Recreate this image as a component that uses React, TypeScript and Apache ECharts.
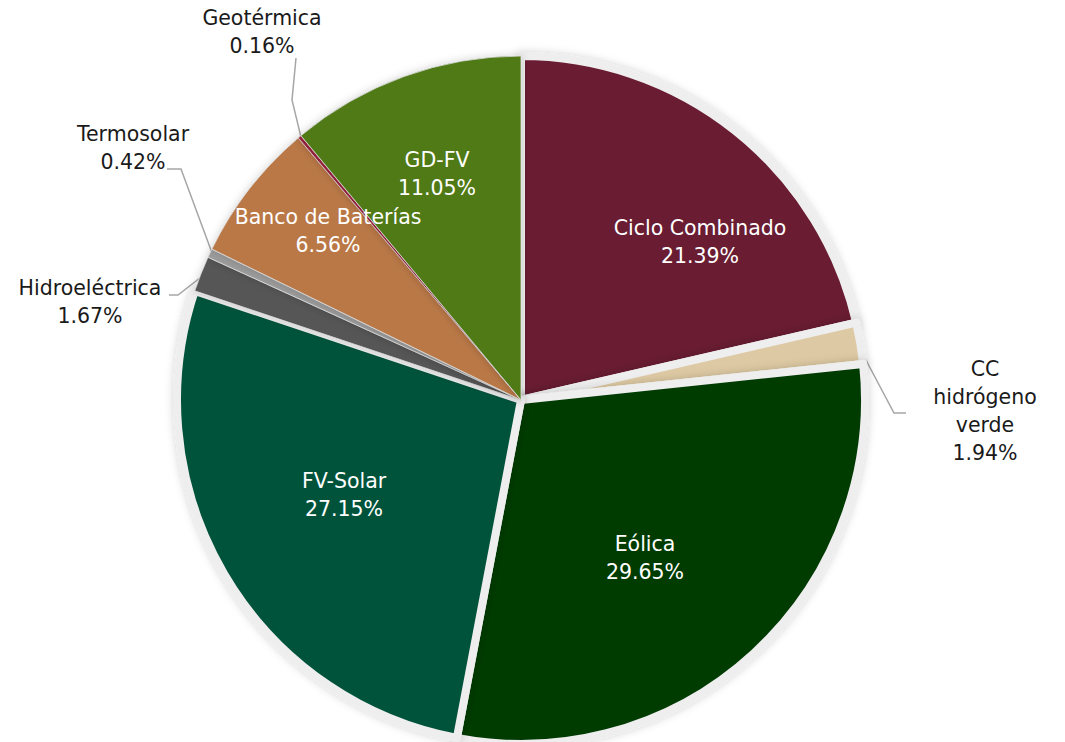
import React, { useEffect, useRef } from "react";
import * as echarts from "echarts";

const categories = [
  "Ciclo Combinado",
  "CC hidrógeno verde",
  "Eólica",
  "FV-Solar",
  "Hidroeléctrica",
  "Termosolar",
  "Banco de Baterías",
  "Geotérmica",
  "GD-FV",
];
const shares = [21.39, 1.94, 29.65, 27.15, 1.67, 0.42, 6.56, 0.16, 11.05];
const colors = [
  "#691B31",
  "#DDC9A3",
  "#033A06",
  "#03523A",
  "#575757",
  "#9C9C9C",
  "#BA7846",
  "#9F2241",
  "#4F7A19",
];
const insideLabels = ["Ciclo Combinado", "Eólica", "FV-Solar", "Banco de Baterías", "GD-FV"];
const wideBorder = ["Ciclo Combinado", "CC hidrógeno verde", "Eólica", "FV-Solar"];

const CX = 521;
const CY = 400;
const R = 344;

// label placement (layout only)
const labelAt: Record<string, [number, number]> = {
  "Ciclo Combinado": [700, 242],
  "Eólica": [645, 558],
  "FV-Solar": [344, 495],
  "GD-FV": [437, 174],
  "Banco de Baterías": [328, 231],
  "Geotérmica": [262, 32],
  "Termosolar": [133, 148],
  "Hidroeléctrica": [90, 302],
  "CC hidrógeno verde": [985, 411],
};
const lineBend: Record<string, [number, number][]> = {
  "Geotérmica": [[292, 100], [296, 58]],
  "Termosolar": [[181, 169], [167, 169]],
  "Hidroeléctrica": [[178, 295], [169, 295]],
  "CC hidrógeno verde": [[894, 413], [906, 413]],
};

function midAnchor(i: number): [number, number] {
  let cum = 0;
  for (let k = 0; k < i; k++) cum += shares[k];
  const total = shares.reduce((a, b) => a + b, 0);
  const a = ((cum + shares[i] / 2) / total) * Math.PI * 2;
  const r = R - 3;
  return [CX + r * Math.sin(a), CY - r * Math.cos(a)];
}

export default function App() {
  const ref = useRef<HTMLDivElement>(null);
  useEffect(() => {
    if (!ref.current) return;
    const chart = echarts.init(ref.current, null, { renderer: "svg" });
    const data = categories.map((name, i) => {
      const inside = insideLabels.includes(name);
      const wide = wideBorder.includes(name);
      return {
        name,
        value: shares[i],
        itemStyle: {
          color: colors[i],
          borderColor: wide ? "#eeeeee" : "#dcdcdc",
          borderWidth: wide ? 8 : 0.8,
        },
        label: { color: inside ? "#ffffff" : "#1a1a1a" },
        labelLine: { show: !inside },
      };
    });
    chart.setOption({
      animation: false,
      backgroundColor: "#ffffff",
      series: [
        {
          type: "pie",
          center: [CX, CY],
          radius: [0, R],
          startAngle: 90,
          clockwise: true,
          avoidLabelOverlap: false,
          data,
          itemStyle: {
            shadowBlur: 8,
            shadowColor: "rgba(0,0,0,0.18)",
          },
          label: {
            show: true,
            position: "outside",
            fontFamily: "DejaVu Sans",
            fontSize: 20.5,
            lineHeight: 28,
            align: "center",
            formatter: (p: any) => {
              const n = p.name === "CC hidrógeno verde" ? "CC\nhidrógeno\nverde" : p.name;
              return n + "\n" + Number(p.value).toFixed(2) + "%";
            },
          },
          labelLine: {
            lineStyle: { color: "#a6a6a6", width: 1.5 },
          },
          emphasis: { disabled: true },
          labelLayout: (params: any) => {
            const name = categories[params.dataIndex];
            const pos = labelAt[name];
            const out: any = { x: pos[0], y: pos[1], align: "center", verticalAlign: "middle" };
            const bend = lineBend[name];
            if (bend) {
              out.labelLinePoints = [midAnchor(params.dataIndex), ...bend];
            }
            return out;
          },
        },
      ],
    });
    return () => chart.dispose();
  }, []);
  return (
    <div
      ref={ref}
      style={{ position: "absolute", left: 0, top: 0, width: 1065, height: 742, background: "#fff" }}
    />
  );
}
